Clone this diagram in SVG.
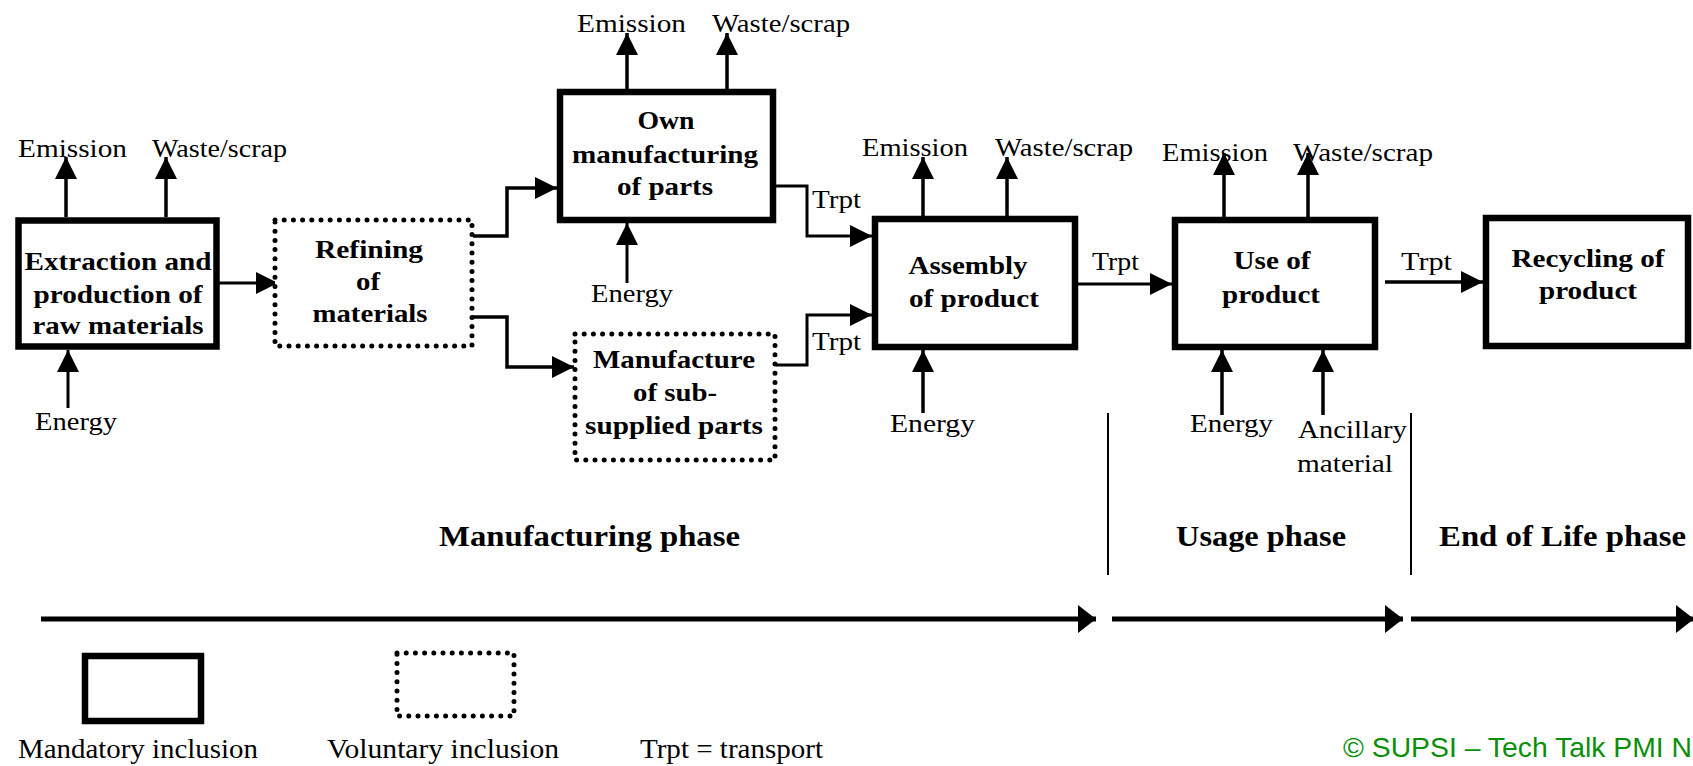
<svg xmlns="http://www.w3.org/2000/svg" width="1693" height="766" viewBox="0 0 1693 766">
<style>
.box{fill:#fff;stroke:#000;stroke-width:6.5}
.dot{fill:#fff;stroke:#000;stroke-width:5;stroke-dasharray:0 9.2;stroke-linecap:round}
.ln{fill:none;stroke:#000;stroke-width:3.5;marker-end:url(#ah)}
.thin{fill:none;stroke:#000;stroke-width:3;marker-end:url(#ah)}
.big{fill:none;stroke:#000;stroke-width:5;marker-end:url(#bh)}
.sep{stroke:#000;stroke-width:2}
text{font-family:"Liberation Serif","Times New Roman",serif;fill:#000}
.lbl{font-size:25px}
.nd{font-size:26px;font-weight:bold;text-anchor:middle}
.ph{font-size:29px;font-weight:bold}
.lg{font-size:27px}
.cp{font-family:"Liberation Sans",Arial,sans-serif;font-size:27.5px;fill:#0a8f0a}
</style>
<defs>
<marker id="ah" markerUnits="userSpaceOnUse" markerWidth="24" markerHeight="24" refX="22" refY="11" orient="auto" viewBox="0 0 24 24">
<path d="M0,0 L22,11 L0,22 z" fill="#000"/>
</marker>
<marker id="bh" markerUnits="userSpaceOnUse" markerWidth="20" markerHeight="30" refX="18" refY="14" orient="auto" viewBox="0 0 20 30">
<path d="M0,0 L18,14 L0,28 z" fill="#000"/>
</marker>
</defs>
<rect width="1693" height="766" fill="#fff"/>

<g id="connectors">
<line class="ln" x1="66" y1="217" x2="66" y2="157"/>
<line class="ln" x1="166" y1="217" x2="166" y2="157"/>
<line class="thin" x1="68" y1="408" x2="68" y2="350"/>
<line class="thin" x1="213" y1="283" x2="278" y2="283"/>
<polyline class="ln" points="473,236 507,236 507,188 557,188"/>
<polyline class="ln" points="473,317 507,317 507,367 574,367"/>
<line class="ln" x1="627" y1="89" x2="627" y2="33"/>
<line class="ln" x1="727" y1="89" x2="727" y2="33"/>
<line class="thin" x1="627" y1="283" x2="627" y2="223"/>
<polyline class="thin" points="776,186 807,186 807,236 872,236"/>
<polyline class="thin" points="776,365 807,365 807,315 872,315"/>
<line class="ln" x1="923" y1="216" x2="923" y2="157"/>
<line class="ln" x1="1007" y1="216" x2="1007" y2="157"/>
<line class="ln" x1="923" y1="413" x2="923" y2="350"/>
<line class="thin" x1="1078" y1="284" x2="1172" y2="284"/>
<line class="ln" x1="1224" y1="217" x2="1224" y2="153"/>
<line class="ln" x1="1308" y1="217" x2="1308" y2="153"/>
<line class="ln" x1="1222" y1="415" x2="1222" y2="350"/>
<line class="ln" x1="1323" y1="415" x2="1323" y2="350"/>
<line class="ln" x1="1385" y1="282" x2="1483" y2="282"/>
<line class="big" x1="41" y1="619" x2="1096" y2="619"/>
<line class="big" x1="1112" y1="619" x2="1403" y2="619"/>
<line class="big" x1="1411" y1="619" x2="1694" y2="619"/>
<line class="sep" x1="1108" y1="413" x2="1108" y2="575"/>
<line class="sep" x1="1411" y1="413" x2="1411" y2="575"/>
</g>

<g id="labels">
<text class="lbl" x="18" y="157" textLength="109" lengthAdjust="spacingAndGlyphs">Emission</text>
<text class="lbl" x="152" y="157" textLength="135" lengthAdjust="spacingAndGlyphs">Waste/scrap</text>
<text class="lbl" x="35" y="430" textLength="82" lengthAdjust="spacingAndGlyphs">Energy</text>
<text class="lbl" x="577" y="32" textLength="109" lengthAdjust="spacingAndGlyphs">Emission</text>
<text class="lbl" x="712" y="32" textLength="138" lengthAdjust="spacingAndGlyphs">Waste/scrap</text>
<text class="lbl" x="591" y="302" textLength="82" lengthAdjust="spacingAndGlyphs">Energy</text>
<text class="lbl" x="812" y="208" textLength="49" lengthAdjust="spacingAndGlyphs">Trpt</text>
<text class="lbl" x="812" y="350" textLength="49" lengthAdjust="spacingAndGlyphs">Trpt</text>
<text class="lbl" x="862" y="156" textLength="106" lengthAdjust="spacingAndGlyphs">Emission</text>
<text class="lbl" x="995" y="156" textLength="138" lengthAdjust="spacingAndGlyphs">Waste/scrap</text>
<text class="lbl" x="890" y="432" textLength="85" lengthAdjust="spacingAndGlyphs">Energy</text>
<text class="lbl" x="1092" y="270" textLength="47" lengthAdjust="spacingAndGlyphs">Trpt</text>
<text class="lbl" x="1162" y="161" textLength="106" lengthAdjust="spacingAndGlyphs">Emission</text>
<text class="lbl" x="1293" y="161" textLength="140" lengthAdjust="spacingAndGlyphs">Waste/scrap</text>
<text class="lbl" x="1190" y="432" textLength="83" lengthAdjust="spacingAndGlyphs">Energy</text>
<text class="lbl" x="1298" y="438" textLength="109" lengthAdjust="spacingAndGlyphs">Ancillary</text>
<text class="lbl" x="1297" y="472" textLength="96" lengthAdjust="spacingAndGlyphs">material</text>
<text class="lbl" x="1401" y="270" textLength="51" lengthAdjust="spacingAndGlyphs">Trpt</text>
<text class="ph" x="439" y="546" textLength="301" lengthAdjust="spacingAndGlyphs">Manufacturing phase</text>
<text class="ph" x="1176" y="546" textLength="170" lengthAdjust="spacingAndGlyphs">Usage phase</text>
<text class="ph" x="1439" y="546" textLength="247" lengthAdjust="spacingAndGlyphs">End of Life phase</text>
<text class="cp" x="1343" y="757" textLength="349" lengthAdjust="spacingAndGlyphs">© SUPSI – Tech Talk PMI N</text>
</g>

<g id="extraction">
<rect class="box" x="18.5" y="220.5" width="198" height="126"/>
<text class="nd" x="118" y="270" textLength="187" lengthAdjust="spacingAndGlyphs">Extraction and</text>
<text class="nd" x="118" y="303" textLength="169" lengthAdjust="spacingAndGlyphs">production of</text>
<text class="nd" x="118" y="334" textLength="171" lengthAdjust="spacingAndGlyphs">raw materials</text>
</g>
<g id="refining">
<rect class="dot" x="275" y="220" width="197" height="126"/>
<text class="nd" x="369" y="258" textLength="108" lengthAdjust="spacingAndGlyphs">Refining</text>
<text class="nd" x="368" y="290" textLength="24" lengthAdjust="spacingAndGlyphs">of</text>
<text class="nd" x="370" y="322" textLength="115" lengthAdjust="spacingAndGlyphs">materials</text>
</g>
<g id="own">
<rect class="box" x="560" y="92" width="213" height="128"/>
<text class="nd" x="666" y="129" textLength="57" lengthAdjust="spacingAndGlyphs">Own</text>
<text class="nd" x="665" y="163" textLength="186" lengthAdjust="spacingAndGlyphs">manufacturing</text>
<text class="nd" x="665" y="195" textLength="96" lengthAdjust="spacingAndGlyphs">of parts</text>
</g>
<g id="manufacture">
<rect class="dot" x="575" y="334" width="200" height="126"/>
<text class="nd" x="674" y="368" textLength="162" lengthAdjust="spacingAndGlyphs">Manufacture</text>
<text class="nd" x="675" y="401" textLength="84" lengthAdjust="spacingAndGlyphs">of sub-</text>
<text class="nd" x="674" y="434" textLength="178" lengthAdjust="spacingAndGlyphs">supplied parts</text>
</g>
<g id="assembly">
<rect class="box" x="875" y="219" width="200" height="128"/>
<text class="nd" x="968" y="274" textLength="119" lengthAdjust="spacingAndGlyphs">Assembly</text>
<text class="nd" x="974" y="307" textLength="130" lengthAdjust="spacingAndGlyphs">of product</text>
</g>
<g id="use">
<rect class="box" x="1175" y="220" width="200" height="127"/>
<text class="nd" x="1272" y="269" textLength="77" lengthAdjust="spacingAndGlyphs">Use of</text>
<text class="nd" x="1271" y="303" textLength="98" lengthAdjust="spacingAndGlyphs">product</text>
</g>
<g id="recycling">
<rect class="box" x="1486" y="218" width="202" height="128"/>
<text class="nd" x="1588" y="267" textLength="153" lengthAdjust="spacingAndGlyphs">Recycling of</text>
<text class="nd" x="1588" y="299" textLength="98" lengthAdjust="spacingAndGlyphs">product</text>
</g>

<g id="legend-mandatory">
<rect class="box" x="85" y="656" width="116" height="65"/>
<text class="lg" x="18" y="758" textLength="240" lengthAdjust="spacingAndGlyphs">Mandatory inclusion</text>
</g>
<g id="legend-voluntary">
<rect class="dot" x="397" y="653" width="117" height="63"/>
<text class="lg" x="327" y="758" textLength="232" lengthAdjust="spacingAndGlyphs">Voluntary inclusion</text>
</g>
<g id="legend-trpt">
<text class="lg" x="640" y="758" textLength="183" lengthAdjust="spacingAndGlyphs">Trpt = transport</text>
</g>
</svg>
